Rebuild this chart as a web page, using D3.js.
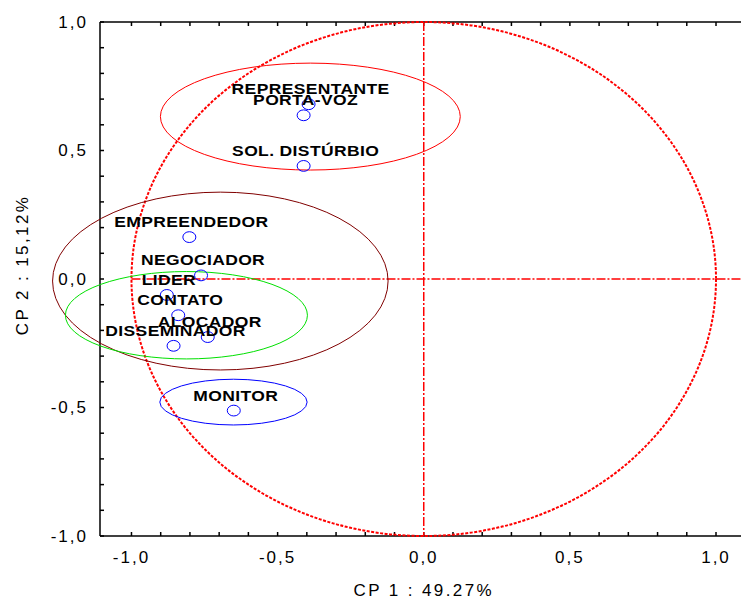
<!DOCTYPE html>
<html lang="pt">
<head>
  <meta charset="UTF-8">
  <title>CP 1 x CP 2</title>
  <script src="https://d3js.org/d3.v7.min.js"></script>
  <style>
    body { margin: 0; padding: 0; background: #fff; }
    svg { display: block; font-family: "Liberation Sans", Arial, sans-serif; }
    .tick-label { font-size: 17px; letter-spacing: 2px; fill: #000; }
    .axis-title { font-size: 17px; letter-spacing: 2.4px; fill: #000; }
    .point-label { font-size: 14px; font-weight: bold; letter-spacing: 0.3px; fill: #000; }
  </style>
</head>
<body>
<svg id="chart" width="741" height="599"></svg>

<script>
// variáveis (cargas nos dois componentes)
const names = ["REPRESENTANTE", "PORTA-VOZ", "SOL. DISTÚRBIO", "EMPREENDEDOR", "NEGOCIADOR",
               "LIDER", "CONTATO", "ALOCADOR", "DISSEMINADOR", "MONITOR"];
const cp1 = [-0.394, -0.411, -0.411, -0.802, -0.762, -0.879, -0.840, -0.739, -0.856, -0.650];
const cp2 = [0.680, 0.637, 0.440, 0.163, 0.014, -0.062, -0.141, -0.226, -0.260, -0.512];

// grupos (elipses)
const groupColors = ["#ff0000", "#800000", "#00e000", "#0000ff"];
const groupCx = [-0.388, -0.696, -0.812, -0.651];
const groupCy = [0.632, -0.008, -0.141, -0.479];
const groupRx = [0.513, 0.574, 0.414, 0.252];
const groupRy = [0.208, 0.346, 0.170, 0.089];

const xTickLabels = [-1.0, -0.5, 0.0, 0.5, 1.0];
const yTickLabels = [-1.0, -0.5, 0.0, 0.5, 1.0];
const minorTicks = d3.range(-10, 11).map(d => d / 10);

const xTitle = "CP 1 : 49.27%";
const yTitle = "CP 2 : 15,12%";

const svg = d3.select("#chart");
const pLeft = 100, pRight = 741, pTop = 22, pBottom = 536;

const x = d3.scaleLinear().domain([-1.1077, 1.0855]).range([pLeft, pRight]);
const y = d3.scaleLinear().domain([-1, 1]).range([pBottom, pTop]);

const fmt = v => d3.format(".1f")(v).replace(".", ",").replace("−", "-");

// eixos
const axes = svg.append("g").attr("stroke", "#000").attr("stroke-width", 1.5);
axes.append("line").attr("x1", pLeft).attr("x2", pLeft).attr("y1", pTop).attr("y2", pBottom);
axes.append("line").attr("x1", pLeft).attr("x2", pRight).attr("y1", pTop).attr("y2", pTop);
axes.append("line").attr("x1", pLeft).attr("x2", pRight).attr("y1", pBottom).attr("y2", pBottom);

axes.selectAll(".tt").data(minorTicks).enter().append("line")
  .attr("x1", d => x(d)).attr("x2", d => x(d)).attr("y1", pTop).attr("y2", pTop + 4);
axes.selectAll(".tb").data(minorTicks).enter().append("line")
  .attr("x1", d => x(d)).attr("x2", d => x(d)).attr("y1", pBottom).attr("y2", pBottom - 4);
axes.selectAll(".tl").data(minorTicks).enter().append("line")
  .attr("x1", pLeft).attr("x2", pLeft + 4).attr("y1", d => y(d)).attr("y2", d => y(d));

svg.selectAll(".xl").data(xTickLabels).enter().append("text")
  .attr("class", "tick-label")
  .attr("x", d => x(d)).attr("y", 563)
  .attr("text-anchor", "middle")
  .text(fmt);

svg.selectAll(".yl").data(yTickLabels).enter().append("text")
  .attr("class", "tick-label")
  .attr("x", 88).attr("y", d => y(d))
  .attr("text-anchor", "end")
  .attr("dominant-baseline", "central")
  .text(fmt);

svg.append("text").attr("class", "axis-title")
  .attr("x", x(0)).attr("y", 596)
  .attr("text-anchor", "middle")
  .text(xTitle);

svg.append("text").attr("class", "axis-title")
  .attr("transform", `translate(28,265) rotate(-90)`)
  .attr("text-anchor", "middle")
  .text(yTitle);

// círculo de correlação e linhas de referência
svg.append("line")
  .attr("x1", x(-1)).attr("x2", pRight).attr("y1", y(0)).attr("y2", y(0))
  .attr("stroke", "#ff0000").attr("stroke-width", 1.5)
  .attr("stroke-dasharray", "9,2,2,2");
svg.append("line")
  .attr("x1", x(0)).attr("x2", x(0)).attr("y1", y(1)).attr("y2", y(-1))
  .attr("stroke", "#ff0000").attr("stroke-width", 1.5)
  .attr("stroke-dasharray", "9,2,2,2");

svg.append("ellipse")
  .attr("cx", x(0)).attr("cy", y(0))
  .attr("rx", x(1) - x(0)).attr("ry", y(0) - y(1))
  .attr("fill", "none").attr("stroke", "#ff0000")
  .attr("stroke-width", 2).attr("stroke-dasharray", "3,1.5");

// elipses dos grupos
svg.selectAll(".grp").data(groupCx).enter().append("ellipse")
  .attr("cx", (d, i) => x(groupCx[i]))
  .attr("cy", (d, i) => y(groupCy[i]))
  .attr("rx", (d, i) => x(groupRx[i]) - x(0))
  .attr("ry", (d, i) => y(0) - y(groupRy[i]))
  .attr("fill", "none")
  .attr("stroke", (d, i) => groupColors[i])
  .attr("stroke-width", 1);

// pontos
svg.selectAll(".pt").data(names).enter().append("ellipse")
  .attr("cx", (d, i) => x(cp1[i]))
  .attr("cy", (d, i) => y(cp2[i]))
  .attr("rx", 6.5).attr("ry", 5.4)
  .attr("fill", "none").attr("stroke", "#0000ff").attr("stroke-width", 1);

// rótulos (texto largo, como no original)
svg.selectAll(".lab").data(names).enter().append("text")
  .attr("class", "point-label")
  .attr("transform", (d, i) => `translate(${x(cp1[i]) + 2},${y(cp2[i]) - 10}) scale(1.25,1)`)
  .attr("text-anchor", "middle")
  .text(d => d);
</script>
</body>
</html>
